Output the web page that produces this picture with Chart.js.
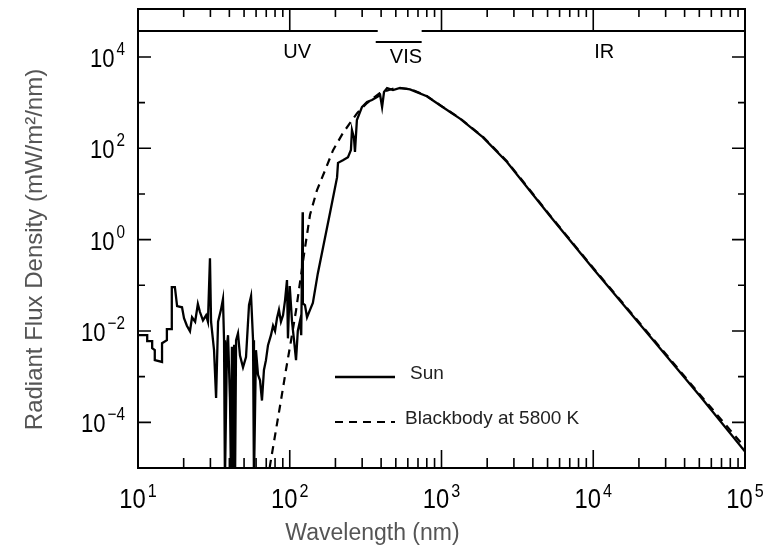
<!DOCTYPE html>
<html>
<head>
<meta charset="utf-8">
<script src="https://cdn.jsdelivr.net/npm/chart.js@4.4.1/dist/chart.umd.min.js"></script>
<style>
  html, body { margin: 0; padding: 0; background: #fff; }
  canvas { display: block; }
</style>
</head>
<body>
<canvas id="spectrum" width="772" height="556"></canvas>
<script>
// solar spectrum (nm, mW/m2/nm)
const sunWavelength = [
  10, 11.5, 11.5, 12.4, 12.4, 12.9, 12.9, 14.4, 14.4, 15.5,
  15.5, 16.7, 16.7, 17.5, 18.1, 19.5, 20.1, 21.0, 22.0, 22.7,
  23.8, 24.8, 25.6, 26.8, 28.1, 28.9, 29.8, 30.3, 31.7, 32.7,
  33.7, 35.2, 36.3, 36.9, 37.4, 38.6, 39.2, 40.4, 41.0, 41.6,
  42.3, 43.0, 43.6, 44.3, 45.6, 47.0, 49.2, 51.5, 53.9, 55.6,
  57.3, 58.1, 59.9, 61.8, 63.7, 65.6, 67.6, 69.7, 71.9, 75.2,
  77.6, 80.0, 82.4, 84.9, 87.5, 90.3, 93.1, 95.9, 97.3, 100,
  103.5, 106.7, 110, 113, 117, 119, 121.6, 122, 126, 130,
  136, 142, 153, 166, 184, 205, 208, 224, 242, 253,
  257, 265, 269, 277, 299, 323, 348, 376, 394, 406,
  418, 438, 479, 533, 620, 800, 1000, 1330, 1870, 2700,
  5190, 10000, 23700, 50000, 100000
];
const sunFlux = [
  0.0081, 0.0081, 0.0060, 0.0060, 0.0042, 0.0038, 0.0023, 0.0021, 0.0054, 0.0063,
  0.011, 0.011, 0.091, 0.091, 0.035, 0.033, 0.019, 0.013, 0.0099, 0.020,
  0.016, 0.039, 0.026, 0.017, 0.022, 0.016, 0.39, 0.016, 0.0038, 0.00034,
  0.016, 0.029, 0.05, 0.0063, 5e-6, 0.0049, 0.0081, 0.0003, 5e-6, 0.0045,
  5e-6, 0.005, 5e-6, 0.0063, 0.0089, 0.0029, 0.0016, 0.0027, 0.037, 0.058,
  0.0063, 5e-6, 0.0038, 0.0011, 0.00083, 0.0003, 0.0014, 0.0023, 0.0049, 0.0081,
  0.013, 0.010, 0.019, 0.029, 0.016, 0.022, 0.047, 0.13, 0.0069, 0.096,
  0.016, 0.0063, 0.0023, 0.010, 0.017, 0.0081, 4.0, 0.04, 0.037, 0.020,
  0.029, 0.041, 0.18, 0.69, 3.8, 23, 48, 55, 64, 92,
  250, 168, 83, 416, 800, 1030, 1140, 1330, 1470, 800,
  1710, 2090, 1890, 2100, 1950, 1380, 830, 440, 175, 50,
  3.3, 0.23, 0.0076, 0.00039, 0.000023
];

// 5800 K blackbody
const bbWavelength = [
  72, 74, 81, 87.5, 94.4, 102, 110, 117, 124, 130,
  136, 151, 171, 193, 224, 278, 323, 393, 494, 620,
  800, 1000, 1330, 1870, 2700, 5190, 10000, 23700, 50000, 100000
];
const bbFlux = [
  5e-6, 1.1e-5, 6.6e-5, 3.0e-4, 1.4e-3, 6.2e-3, 0.028, 0.12, 0.46, 1.3,
  3.5, 12, 33, 91, 215, 590, 980, 1620, 2090, 2000,
  1400, 840, 450, 180, 52, 3.4, 0.24, 0.008, 0.00042, 0.000028
];

const xTickExponents = [1, 2, 3, 4, 5];
const yTickExponents = [4, 2, 0, -2, -4];
const bandNames = ["UV", "VIS", "IR"];
const bandCenters = [112, 583, 11800];
const visRange = [380, 740];

const sans = '"Liberation Sans", Arial, sans-serif';
const squeeze = 0.85; // tick numerals in the figure are a condensed face

function expText(e) {
  return e < 0 ? "\u2212" + Math.abs(e) : String(e);
}

function narrowWidth(ctx, text, size) {
  ctx.font = size + "px " + sans;
  return ctx.measureText(text).width * squeeze;
}

// left-aligned condensed text
function narrowText(ctx, text, size, x, y) {
  ctx.save();
  ctx.font = size + "px " + sans;
  ctx.textAlign = "left";
  ctx.translate(x, y);
  ctx.scale(squeeze, 1);
  ctx.fillText(text, 0, 0);
  ctx.restore();
}

const framePlugin = {
  id: "frame",
  afterDraw(chart) {
    const ctx = chart.ctx;
    const xs = chart.scales.x;
    const ys = chart.scales.y;
    const { left, right, top, bottom } = chart.chartArea;
    const bandTop = 9;
    const px = v => xs.getPixelForValue(v);

    ctx.save();
    ctx.strokeStyle = "#000";
    ctx.lineWidth = 2;
    ctx.beginPath();
    ctx.moveTo(left - 1, bandTop); ctx.lineTo(right + 1, bandTop);
    ctx.moveTo(left, bandTop); ctx.lineTo(left, bottom + 1);
    ctx.moveTo(right, bandTop); ctx.lineTo(right, bottom + 1);
    ctx.moveTo(left - 1, bottom); ctx.lineTo(right + 1, bottom);
    ctx.moveTo(left, top); ctx.lineTo(px(visRange[0]), top);
    ctx.moveTo(px(visRange[1]), top); ctx.lineTo(right, top);
    ctx.moveTo(px(visRange[0]) - 2, top + 11); ctx.lineTo(px(visRange[1]), top + 11);
    ctx.stroke();

    // ticks
    ctx.lineWidth = 1.6;
    ctx.beginPath();
    for (let d = 1; d < 5; d++) {
      for (let m = 2; m < 10; m++) {
        const x = px(m * 10 ** d);
        ctx.moveTo(x, bandTop); ctx.lineTo(x, bandTop + 8);
        ctx.moveTo(x, bottom); ctx.lineTo(x, bottom - 10);
      }
      if (d > 1) {
        const x = px(10 ** d);
        ctx.moveTo(x, bandTop); ctx.lineTo(x, top);
        ctx.moveTo(x, bottom); ctx.lineTo(x, bottom - 18);
      }
    }
    for (let e = -4; e <= 4; e++) {
      const y = ys.getPixelForValue(10 ** e);
      const len = e % 2 === 0 ? 13 : 7;
      ctx.moveTo(left, y); ctx.lineTo(left + len, y);
      ctx.moveTo(right, y); ctx.lineTo(right - len, y);
    }
    ctx.stroke();

    // tick labels with raised exponents
    ctx.fillStyle = "#000";
    ctx.textBaseline = "alphabetic";
    yTickExponents.forEach(e => {
      const y = ys.getPixelForValue(10 ** e);
      const sup = expText(e);
      const we = narrowWidth(ctx, sup, 18);
      const wb = narrowWidth(ctx, "10", 26);
      narrowText(ctx, sup, 18, left - 13 - we, y - 2);
      narrowText(ctx, "10", 26, left - 15 - we - wb, y + 10);
    });
    xTickExponents.forEach(e => {
      const x = px(10 ** e);
      const sup = expText(e);
      const wb = narrowWidth(ctx, "10", 28);
      const we = narrowWidth(ctx, sup, 19);
      const x0 = x - (wb + 2 + we) / 2;
      narrowText(ctx, "10", 28, x0, bottom + 40);
      narrowText(ctx, sup, 19, x0 + wb + 2, bottom + 29);
    });

    // spectral band names
    ctx.textAlign = "center";
    ctx.font = "20px " + sans;
    bandNames.forEach((name, i) => {
      const y = name === "VIS" ? top + 32 : top + 27;
      ctx.fillText(name, px(bandCenters[i]), y);
    });

    // legend inside the plot
    ctx.font = "19px " + sans;
    ctx.textAlign = "left";
    ctx.textBaseline = "middle";
    chart.data.datasets.forEach((ds, i) => {
      const y = 377 + i * 45;
      ctx.strokeStyle = ds.borderColor;
      ctx.lineWidth = ds.borderWidth;
      ctx.setLineDash(ds.borderDash || []);
      ctx.beginPath();
      ctx.moveTo(335, y); ctx.lineTo(395, y);
      ctx.stroke();
      ctx.setLineDash([]);
      ctx.fillStyle = "#222";
      ctx.fillText(ds.label, i === 0 ? 410 : 405, y - 3);
    });
    ctx.restore();
  }
};

const toPoints = (xs, ys) => xs.map((x, i) => ({ x, y: ys[i] }));

new Chart(document.getElementById("spectrum"), {
  type: "line",
  data: {
    datasets: [
      {
        label: "Sun",
        data: toPoints(sunWavelength, sunFlux),
        borderColor: "#000",
        borderWidth: 2.3,
        pointRadius: 0,
        tension: 0
      },
      {
        label: "Blackbody at 5800 K",
        data: toPoints(bbWavelength, bbFlux),
        borderColor: "#000",
        borderWidth: 2.2,
        borderDash: [8, 6],
        pointRadius: 0,
        tension: 0
      }
    ]
  },
  options: {
    responsive: false,
    animation: false,
    layout: { padding: { left: 0, top: 31, right: 27, bottom: 0 } },
    plugins: {
      legend: { display: false },
      tooltip: { enabled: false },
      title: {
        display: true,
        position: "bottom",
        text: "Wavelength (nm)",
        color: "#555",
        font: { family: sans, size: 23, weight: "normal" },
        padding: { top: 0, bottom: 9 }
      }
    },
    scales: {
      x: {
        type: "logarithmic",
        min: 10,
        max: 100000,
        grid: { display: false },
        border: { display: false },
        ticks: { display: false },
        afterFit: s => { s.height = 51.4; }
      },
      y: {
        type: "logarithmic",
        min: 1e-5,
        max: 37000,
        grid: { display: false },
        border: { display: false },
        ticks: { display: false },
        title: {
          display: true,
          text: "Radiant Flux Density (mW/m\u00b2/nm)",
          color: "#555",
          font: { family: sans, size: 24 },
          padding: { top: 21, bottom: 0 }
        },
        afterFit: s => { s.width = 138; }
      }
    }
  },
  plugins: [framePlugin]
});
</script>
</body>
</html>
